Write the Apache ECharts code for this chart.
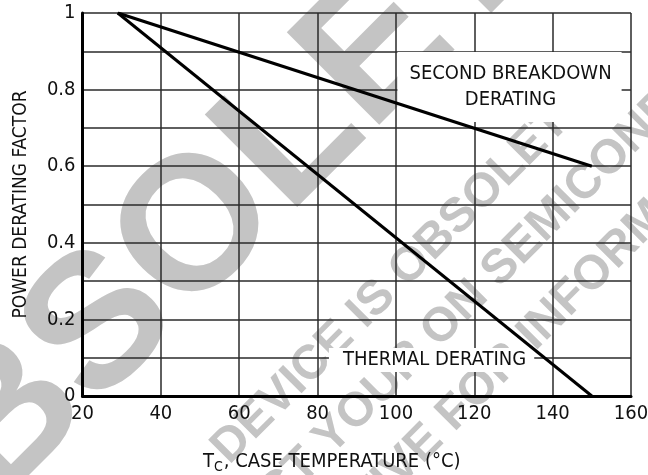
<!DOCTYPE html>
<html>
<head>
<meta charset="utf-8">
<script src="https://cdn.jsdelivr.net/npm/echarts@6/dist/echarts.min.js"></script>
<style>
  html, body { margin: 0; padding: 0; background: #fff; }
  #chart { width: 648px; height: 475px; }
</style>
</head>
<body>
<div id="chart"></div>
<script>
// Case temperature (°C) at the start and end of each derating curve
const caseTemps = [29, 150];
// Derating factors
const secondBreakdown = [1.0, 0.6];
const thermal = [1.0, 0.0];
// Axis ticks
const xTicks = [20, 40, 60, 80, 100, 120, 140, 160];
const yMin = 0, yMax = 1, yStep = 0.1;

const FONT = "'DejaVu Sans Condensed', 'Liberation Sans Narrow', sans-serif";
const WM_FONT = "'Liberation Sans', Arial, sans-serif";
const WM_COLOR = '#c4c4c4';

const pairs = (xs, ys) => xs.map((x, i) => [x, ys[i]]);

const chart = echarts.init(document.getElementById('chart'), null, { renderer: 'canvas' });

// Obsolete-device watermark, sitting behind the grid
const wmAngle = Math.PI / 4;
const watermark = [
  { text: 'OBSOLETE', x: 225, y: 205, size: 190 },
  { text: 'DEVICE IS OBSOLETE', x: 402, y: 274, size: 48 },
  { text: 'CONTACT YOUR ON SEMICONDUCTOR', x: 471, y: 298, size: 48 },
  { text: 'REPRESENTATIVE FOR INFORMATION', x: 448, y: 420, size: 48 }
].map(w => ({
  type: 'text',
  x: w.x, y: w.y,
  rotation: wmAngle,
  z: -100,
  silent: true,
  style: {
    text: w.text,
    fill: WM_COLOR,
    font: `bold ${w.size}px ${WM_FONT}`,
    align: 'center',
    verticalAlign: 'middle'
  }
}));

// Curve annotation: white-boxed label at a data coordinate,
// above the grid but below the curves
const annotation = (coord, text, padding, lineHeight) => ({
  symbol: 'rect',
  symbolSize: 1,
  z: 1,
  itemStyle: { color: 'transparent' },
  silent: true,
  data: [{
    coord,
    label: {
      show: true,
      position: 'inside',
      formatter: text,
      fontFamily: FONT,
      fontSize: 20,
      lineHeight,
      color: '#111',
      align: 'center',
      backgroundColor: '#fff',
      padding
    }
  }]
});

const option = {
  backgroundColor: '#fff',
  animation: false,
  textStyle: { fontFamily: FONT, color: '#111' },
  grid: { left: 82.5, right: 17, top: 13, bottom: 79, containLabel: false, outerBoundsMode: 'none' },
  graphic: { elements: watermark },
  xAxis: {
    type: 'value',
    min: xTicks[0],
    max: xTicks[xTicks.length - 1],
    interval: xTicks[1] - xTicks[0],
    name: '{t|T}{s|C}{t|, CASE TEMPERATURE (°C)}',
    nameLocation: 'middle',
    nameGap: 54,
    nameTextStyle: {
      padding: [0, 50, 0, 0],
      rich: {
        t: { fontFamily: FONT, fontSize: 20, color: '#111', lineHeight: 24, verticalAlign: 'middle' },
        s: { fontFamily: FONT, fontSize: 14, color: '#111', lineHeight: 24, verticalAlign: 'bottom', padding: [0, 1, 0, 0] }
      }
    },
    axisLine: { show: true, onZero: false, lineStyle: { color: '#000', width: 3 } },
    axisTick: { show: false },
    axisLabel: { fontFamily: FONT, fontSize: 20, color: '#111', margin: 8 },
    splitLine: { show: true, lineStyle: { color: '#2a2a2a', width: 1.5 } }
  },
  yAxis: {
    type: 'value',
    min: yMin,
    max: yMax,
    interval: yStep,
    name: 'POWER DERATING FACTOR',
    nameLocation: 'middle',
    nameGap: 52,
    nameTextStyle: { fontFamily: FONT, fontSize: 19, color: '#111' },
    axisLine: { show: true, onZero: false, lineStyle: { color: '#000', width: 3 } },
    axisTick: { show: false },
    axisLabel: {
      fontFamily: FONT, fontSize: 20, color: '#111', margin: 7,
      formatter: v => {
        const tenths = Math.round(v * 10);
        if (tenths % 2 !== 0) return '';
        if (tenths === 0) return '0';
        if (tenths === 10) return '1';
        return (tenths / 10).toFixed(1);
      }
    },
    splitLine: { show: true, lineStyle: { color: '#2a2a2a', width: 1.5 } }
  },
  series: [
    {
      name: 'SECOND BREAKDOWN DERATING',
      type: 'line',
      data: pairs(caseTemps, secondBreakdown),
      symbol: 'none',
      lineStyle: { color: '#000', width: 3.2 },
      z: 3,
      markPoint: annotation([129.0, 0.807], 'SECOND BREAKDOWN\nDERATING', [13, 10, 5, 12], 26)
    },
    {
      name: 'THERMAL DERATING',
      type: 'line',
      data: pairs(caseTemps, thermal),
      symbol: 'none',
      lineStyle: { color: '#000', width: 3 },
      z: 3,
      markPoint: annotation([109.1, 0.094], 'THERMAL DERATING', [1, 8, 1, 14], 22)
    }
  ]
};

chart.setOption(option);
</script>
</body>
</html>
